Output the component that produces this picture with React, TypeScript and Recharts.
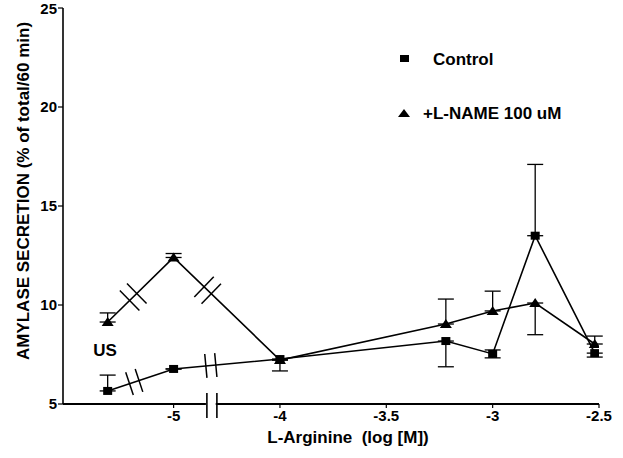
import React from 'react';
import { LineChart, Line, XAxis, YAxis, ErrorBar, ReferenceDot, ReferenceLine } from 'recharts';

// L-Arginine dose (log [M]); 'US' = unstimulated
const doses: (string | number)[] = ['US', -5, -4, -3.22, -3, -2.8, -2.52];
const controlMean = [5.66, 6.77, 7.27, 8.18, 7.53, 13.5, 7.57];
const controlErr: [number, number][] = [[0, 0.8], [0, 0], [0.6, 0], [1.3, 0], [0.2, 0.2], [0, 3.6], [0.2, 0]];
const lnameMean = [9.14, 12.4, 7.22, 9.04, 9.7, 10.1, 8.03];
const lnameErr: [number, number][] = [[0, 0.46], [0, 0.2], [0, 0], [0, 1.26], [0, 1.0], [1.6, 0], [0, 0.4]];
const xTickDoses = [-5, -4, -3.5, -3, -2.5];
const yTicks = [5, 10, 15, 20, 25];

// broken axis: unstimulated and -5 are placed left of the break
const US_POS = -4.81;
const BREAK_A = -4.69;
const BREAK_B = -4.325;
const axisPos = (d: string | number) => (d === 'US' ? US_POS : (d as number) < -4 ? (d as number) + 0.5 : (d as number));
const tickLabel = (p: number) => (p === -4.5 ? '-5' : String(p));

const X_DOMAIN: [number, number] = [-5.02, -2.5];
const Y_DOMAIN: [number, number] = [5, 25];
const W = 623, H = 458;
const MARGIN = { top: 8, right: 24, bottom: 24, left: 3 };
const YW = 60, XH = 30;
const plotW = W - MARGIN.left - MARGIN.right - YW;
const plotH = H - MARGIN.top - MARGIN.bottom - XH;
const pxX = plotW / (X_DOMAIN[1] - X_DOMAIN[0]);
const pxY = plotH / (Y_DOMAIN[1] - Y_DOMAIN[0]);

const data = doses.map((d, i) => ({
  x: axisPos(d),
  ctrl: controlMean[i],
  ctrlErr: controlErr[i],
  lname: lnameMean[i],
  lnameErr: lnameErr[i],
}));

const FONT = '"Liberation Sans", Arial, Helvetica, sans-serif';

const Square = (props: any) => {
  const { cx, cy } = props;
  if (cx == null || cy == null) return null;
  return <rect x={cx - 4.5} y={cy - 4} width={9} height={8} fill="#000" />;
};
const Triangle = (props: any) => {
  const { cx, cy } = props;
  if (cx == null || cy == null) return null;
  return <polygon points={`${cx - 6},${cy + 4} ${cx + 6},${cy + 4} ${cx},${cy - 5}`} fill="#000" />;
};

// break marks on a series line, positioned by interpolation between neighbouring points
function lineBreak(means: number[], i0: number, i1: number, pos: number, half: number) {
  const x0 = data[i0].x, x1 = data[i1].x;
  const t = (pos - x0) / (x1 - x0);
  const y = means[i0] + t * (means[i1] - means[i0]);
  const dxp = (x1 - x0) * pxX;
  const dyp = -(means[i1] - means[i0]) * pxY;
  const len = Math.hypot(dxp, dyp);
  return { x: pos, y, ux: dxp / len, uy: dyp / len, half };
}

const makeBreakShape = (ux: number, uy: number, half: number) => (props: any) => {
  const { cx, cy } = props;
  if (cx == null || cy == null) return <g />;
  const nx = -uy, ny = ux; // perpendicular
  const gap = 5;
  const lines = [-gap, gap].map((o, k) => {
    const bx = cx + ux * o, by = cy + uy * o;
    return (
      <line key={k} x1={bx - nx * half} y1={by - ny * half} x2={bx + nx * half} y2={by + ny * half} stroke="#000" strokeWidth={1.5} />
    );
  });
  return <g>{lines}</g>;
};

const axisBreakShape = (props: any) => {
  const { cx, cy } = props;
  if (cx == null || cy == null) return <g />;
  return (
    <g>
      <line x1={cx - 5} y1={cy - 11} x2={cx - 5} y2={cy + 14} stroke="#000" strokeWidth={1.6} />
      <line x1={cx + 5} y1={cy - 11} x2={cx + 5} y2={cy + 14} stroke="#000" strokeWidth={1.6} />
    </g>
  );
};

const breaks = [
  lineBreak(lnameMean, 0, 1, BREAK_A, 14),
  lineBreak(lnameMean, 1, 2, BREAK_B - 0.015, 14),
  lineBreak(controlMean, 0, 1, BREAK_A + 0.005, 12),
  lineBreak(controlMean, 1, 2, BREAK_B, 12),
];

export default function App() {
  return (
    <div style={{ position: 'absolute', left: 0, top: 0, width: W, height: H, background: '#fff' }}>
      <LineChart width={W} height={H} data={data} margin={MARGIN}>
        <XAxis
          dataKey="x"
          type="number"
          domain={X_DOMAIN}
          ticks={xTickDoses.map(axisPos)}
          tickFormatter={tickLabel}
          axisLine={false}
          tickLine={{ stroke: '#000', strokeWidth: 1.2 }}
          tickSize={4}
          tickMargin={2}
          height={XH}
          tick={{ fill: '#000', fontSize: 15, fontWeight: 'bold', fontFamily: FONT }}
          allowDataOverflow
        />
        <YAxis
          type="number"
          domain={Y_DOMAIN}
          ticks={yTicks}
          width={YW}
          axisLine={{ stroke: '#000', strokeWidth: 1.6 }}
          tickLine={{ stroke: '#000', strokeWidth: 1.2 }}
          tickSize={5}
          tickMargin={1}
          tick={{ fill: '#000', fontSize: 15, fontWeight: 'bold', fontFamily: FONT }}
          allowDataOverflow
        />
        <ReferenceLine
          segment={[{ x: X_DOMAIN[0], y: 5 }, { x: BREAK_B - 0.023, y: 5 }]}
          stroke="#000"
          strokeWidth={1.8}
          ifOverflow="visible"
        />
        <ReferenceLine
          segment={[{ x: BREAK_B + 0.023, y: 5 }, { x: X_DOMAIN[1], y: 5 }]}
          stroke="#000"
          strokeWidth={1.8}
          ifOverflow="visible"
        />
        <ReferenceDot x={BREAK_B + 0.005} y={5} r={1} ifOverflow="visible" shape={axisBreakShape} />
        <Line
          dataKey="lname"
          stroke="#000"
          strokeWidth={1.6}
          dot={<Triangle />}
          activeDot={false}
          isAnimationActive={false}
        >
          <ErrorBar dataKey="lnameErr" width={8} stroke="#000" strokeWidth={1.3} direction="y" />
        </Line>
        <Line
          dataKey="ctrl"
          stroke="#000"
          strokeWidth={1.6}
          dot={<Square />}
          activeDot={false}
          isAnimationActive={false}
        >
          <ErrorBar dataKey="ctrlErr" width={8} stroke="#000" strokeWidth={1.3} direction="y" />
        </Line>
        {breaks.map((b, i) => (
          <ReferenceDot key={i} x={b.x} y={b.y} r={1} ifOverflow="visible" shape={makeBreakShape(b.ux, b.uy, b.half)} />
        ))}
      </LineChart>
      <svg width={W} height={H} style={{ position: 'absolute', left: 0, top: 0, pointerEvents: 'none' }}>
        <g fontFamily={FONT} fontWeight="bold" fill="#000">
          <text
            x={23}
            y={191}
            transform="rotate(-90 23 191)"
            textAnchor="middle"
            dominantBaseline="central"
            fontSize={17}
          >
            AMYLASE SECRETION (% of total/60 min)
          </text>
          <text x={348} y={437} textAnchor="middle" dominantBaseline="central" fontSize={17} style={{ whiteSpace: 'pre' }}>
            {'L-Arginine  (log [M])'}
          </text>
          <text x={105} y={350} textAnchor="middle" dominantBaseline="central" fontSize={17}>
            US
          </text>
          <rect x={400} y={55} width={9} height={7} />
          <text x={433} y={59} dominantBaseline="central" fontSize={17}>
            Control
          </text>
          <polygon points="398,117 410,117 404,109" />
          <text x={423} y={113} dominantBaseline="central" fontSize={17}>
            +L-NAME 100 uM
          </text>
        </g>
      </svg>
    </div>
  );
}
